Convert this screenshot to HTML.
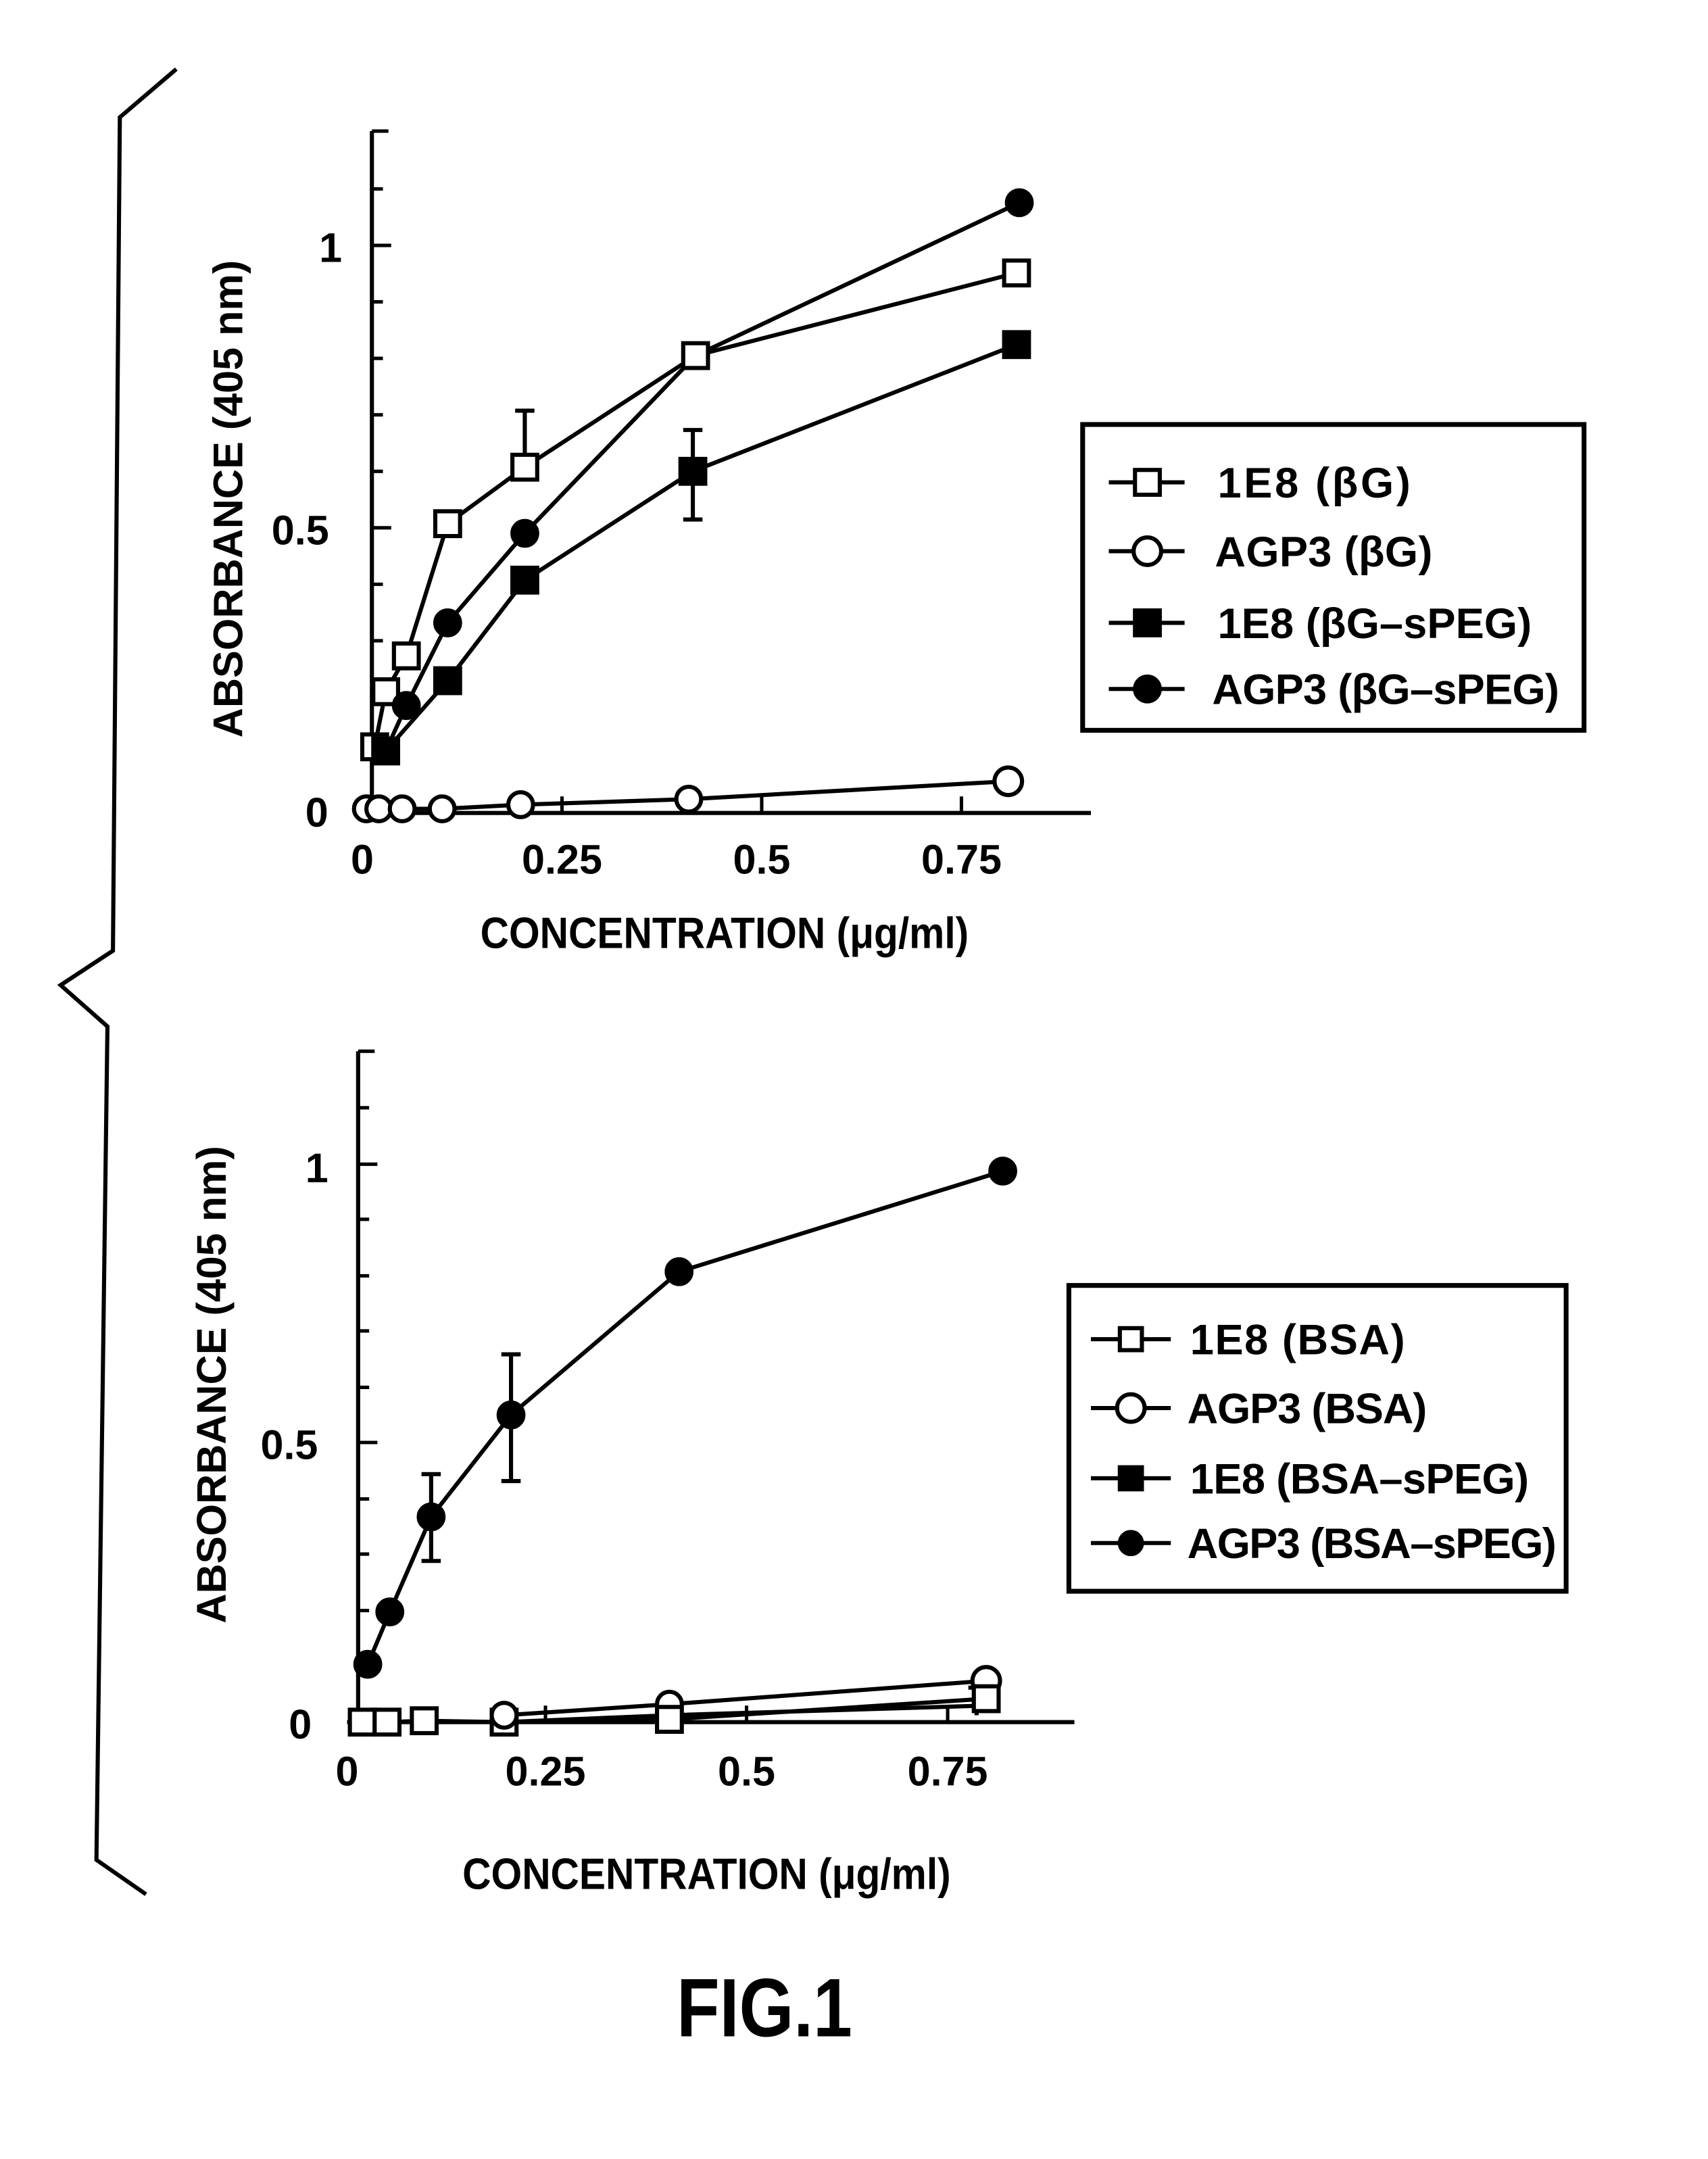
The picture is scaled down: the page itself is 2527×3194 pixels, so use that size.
<!DOCTYPE html>
<html><head><style>html,body{margin:0;padding:0;background:#fff}svg{display:block}</style></head>
<body>
<svg xmlns="http://www.w3.org/2000/svg" width="2527" height="3194" viewBox="0 0 1240 1567" font-family="Liberation Sans, sans-serif">
<g fill="none" stroke="#000" stroke-width="3">
<polyline points="128,50 87,85 82,690 44,715 78,745 70,1350 106,1375"/>
<line x1="270" y1="95" x2="270" y2="590"/>
<line x1="262" y1="590" x2="792" y2="590"/>
<g stroke-width="2.5">
<line x1="270" y1="95" x2="282" y2="95"/><line x1="270" y1="137" x2="278" y2="137"/>
<line x1="270" y1="178" x2="284" y2="178"/><line x1="270" y1="219" x2="278" y2="219"/>
<line x1="270" y1="260" x2="278" y2="260"/><line x1="270" y1="301" x2="278" y2="301"/>
<line x1="270" y1="342" x2="278" y2="342"/><line x1="270" y1="383" x2="284" y2="383"/>
<line x1="270" y1="424" x2="278" y2="424"/><line x1="270" y1="465" x2="278" y2="465"/>
<line x1="270" y1="506" x2="278" y2="506"/><line x1="270" y1="548" x2="278" y2="548"/>
<line x1="408" y1="590" x2="408" y2="578"/><line x1="553" y1="590" x2="553" y2="578"/><line x1="698" y1="590" x2="698" y2="578"/>
</g>
<polyline points="272,542 280,502 295,476 325,380 381,339 505,258 738,198"/>
<polyline points="266,587 275,587 292,587 321,587 378,584 500,580 732,567"/>
<polyline points="280,545 325,494 381,421 503,342 738,250"/>
<polyline points="280,545 295,512 325,452 381,387 505,258 740,147"/>
<line x1="381" y1="339" x2="381" y2="298"/><line x1="374" y1="298" x2="388" y2="298"/>
<line x1="503" y1="342" x2="503" y2="312"/><line x1="496" y1="312" x2="510" y2="312"/>
<line x1="503" y1="342" x2="503" y2="377"/><line x1="496" y1="377" x2="510" y2="377"/>
</g>
<g stroke="#000" stroke-width="3">
<g fill="#fff">
<rect x="263" y="533" width="18" height="18"/><rect x="271" y="493" width="18" height="18"/>
<rect x="286" y="467" width="18" height="18"/><rect x="316" y="371" width="18" height="18"/>
<rect x="372" y="330" width="18" height="18"/><rect x="496" y="249" width="18" height="18"/>
<rect x="729" y="189" width="18" height="18"/>
<circle cx="266" cy="587" r="9"/><circle cx="275" cy="587" r="9"/><circle cx="292" cy="587" r="9"/>
<circle cx="321" cy="587" r="9"/><circle cx="378" cy="584" r="9"/><circle cx="500" cy="580" r="9"/>
<circle cx="732" cy="567" r="10"/>
</g>
<g fill="#000">
<rect x="271" y="536" width="18" height="18"/><rect x="316" y="485" width="18" height="18"/>
<rect x="372" y="412" width="18" height="18"/><rect x="494" y="333" width="18" height="18"/>
<rect x="729" y="241" width="18" height="18"/>
<circle cx="295" cy="512" r="9"/><circle cx="325" cy="452" r="9"/><circle cx="381" cy="387" r="9"/>
<circle cx="740" cy="147" r="9"/>
</g>
</g>
<g font-size="30" text-anchor="middle" font-weight="bold">
<text x="240" y="190">1</text><text x="218" y="395">0.5</text><text x="230" y="600">0</text>
<text x="263" y="634">0</text><text x="408" y="634">0.25</text><text x="553" y="634">0.5</text><text x="698" y="634">0.75</text>
<text x="526" y="688" font-size="32" transform="translate(526 0) scale(0.9 1) translate(-526 0)">CONCENTRATION (μg/ml)</text>
<text transform="translate(176 362) rotate(-90) scale(1.0 1)" font-size="30">ABSORBANCE (405 nm)</text>
</g>
<rect x="786" y="308" width="364" height="222" fill="none" stroke="#000" stroke-width="3.5"/>
<g stroke="#000" stroke-width="3">
<line x1="805" y1="350" x2="860" y2="350"/><line x1="805" y1="400" x2="860" y2="400"/>
<line x1="805" y1="452" x2="860" y2="452"/><line x1="805" y1="500" x2="860" y2="500"/>
<rect x="824" y="341" width="18" height="18" fill="#fff"/><circle cx="833" cy="400" r="10" fill="#fff"/>
<rect x="824" y="443" width="18" height="18" fill="#000"/><circle cx="833" cy="500" r="9" fill="#000"/>
</g>
<g font-size="31" font-weight="bold">
<text x="884" y="361" textLength="140">1E8 (βG)</text><text x="882" y="411" textLength="158">AGP3 (βG)</text>
<text x="884" y="463" textLength="228">1E8 (βG–sPEG)</text><text x="880" y="511" textLength="252">AGP3 (βG–sPEG)</text>
</g>
<g fill="none" stroke="#000" stroke-width="3">
<line x1="260" y1="763" x2="260" y2="1250"/>
<line x1="252" y1="1250" x2="780" y2="1250"/>
<g stroke-width="2.5">
<line x1="260" y1="763" x2="272" y2="763"/><line x1="260" y1="804" x2="268" y2="804"/>
<line x1="260" y1="845" x2="274" y2="845"/><line x1="260" y1="885" x2="268" y2="885"/>
<line x1="260" y1="926" x2="268" y2="926"/><line x1="260" y1="966" x2="268" y2="966"/>
<line x1="260" y1="1007" x2="268" y2="1007"/><line x1="260" y1="1047" x2="274" y2="1047"/>
<line x1="260" y1="1088" x2="268" y2="1088"/><line x1="260" y1="1128" x2="268" y2="1128"/>
<line x1="260" y1="1169" x2="268" y2="1169"/><line x1="260" y1="1209" x2="268" y2="1209"/>
<line x1="396" y1="1250" x2="396" y2="1238"/><line x1="542" y1="1250" x2="542" y2="1238"/><line x1="688" y1="1250" x2="688" y2="1238"/>
</g>
<polyline points="267,1208 283,1170 313,1101 371,1027 493,923 728,850"/>
<polyline points="263,1250 281,1250 308,1249 366,1250 486,1248 716,1233"/>
<polyline points="366,1245 486,1237 716,1220"/>
<polyline points="366,1250 486,1245 716,1238"/>
<line x1="313" y1="1101" x2="313" y2="1070"/><line x1="306" y1="1070" x2="320" y2="1070"/>
<line x1="313" y1="1101" x2="313" y2="1133"/><line x1="306" y1="1133" x2="320" y2="1133"/>
<line x1="371" y1="1027" x2="371" y2="983"/><line x1="364" y1="983" x2="378" y2="983"/>
<line x1="371" y1="1027" x2="371" y2="1075"/><line x1="364" y1="1075" x2="378" y2="1075"/>
<line x1="709" y1="1225" x2="709" y2="1245"/><line x1="703" y1="1225" x2="715" y2="1225"/>
</g>
<g stroke="#000" stroke-width="3">
<g fill="#fff">
<rect x="254" y="1241" width="18" height="18"/><rect x="272" y="1241" width="18" height="18"/>
<rect x="299" y="1240" width="18" height="18"/><rect x="357" y="1241" width="18" height="18"/>
<circle cx="366" cy="1245" r="9"/><circle cx="486" cy="1237" r="9"/><circle cx="716" cy="1220" r="10"/>
<rect x="477" y="1239" width="18" height="18"/><rect x="707" y="1224" width="18" height="18"/>
</g>
<g fill="#000">
<circle cx="267" cy="1208" r="9"/><circle cx="283" cy="1170" r="9"/><circle cx="313" cy="1101" r="9"/>
<circle cx="371" cy="1027" r="9"/><circle cx="493" cy="923" r="9"/><circle cx="728" cy="850" r="9"/>
</g>
</g>
<g font-size="30" text-anchor="middle" font-weight="bold">
<text x="230" y="858">1</text><text x="210" y="1059">0.5</text><text x="218" y="1262">0</text>
<text x="252" y="1296">0</text><text x="396" y="1296">0.25</text><text x="542" y="1296">0.5</text><text x="688" y="1296">0.75</text>
<text x="513" y="1371" font-size="32" transform="translate(513 0) scale(0.9 1) translate(-513 0)">CONCENTRATION (μg/ml)</text>
<text transform="translate(164 1005) rotate(-90)" font-size="30">ABSORBANCE (405 nm)</text>
</g>
<rect x="776" y="933" width="361" height="222" fill="none" stroke="#000" stroke-width="3.5"/>
<g stroke="#000" stroke-width="3">
<line x1="792" y1="972" x2="850" y2="972"/><line x1="792" y1="1022" x2="850" y2="1022"/>
<line x1="792" y1="1073" x2="850" y2="1073"/><line x1="792" y1="1120" x2="850" y2="1120"/>
<rect x="813" y="964" width="16" height="16" fill="#fff"/><circle cx="821" cy="1022" r="10" fill="#fff"/>
<rect x="813" y="1065" width="16" height="16" fill="#000"/><circle cx="821" cy="1120" r="8" fill="#000"/>
</g>
<g font-size="31" font-weight="bold">
<text x="864" y="983" textLength="156">1E8 (BSA)</text><text x="862" y="1033" textLength="174">AGP3 (BSA)</text>
<text x="864" y="1084" textLength="246">1E8 (BSA–sPEG)</text><text x="862" y="1131" textLength="268">AGP3 (BSA–sPEG)</text>
</g>
<text x="555" y="1478" font-size="60" font-weight="bold" text-anchor="middle" transform="translate(555 0) scale(0.85 1) translate(-555 0)">FIG.1</text>
</svg>
</body></html>
